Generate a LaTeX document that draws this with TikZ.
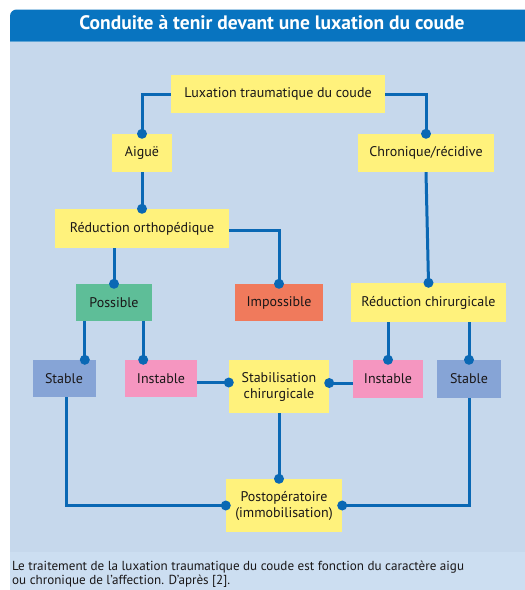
\documentclass[tikz,border=0pt]{standalone}
\usepackage{fontspec}
\setmainfont{PT Sans}
\usetikzlibrary{calc}
\definecolor{titleblue}{HTML}{0874C0}
\definecolor{panelbg}{HTML}{C6D8EC}
\definecolor{capbg}{HTML}{CCDEF1}
\definecolor{linecol}{HTML}{0A68B4}
\definecolor{yel}{HTML}{FFF27C}
\definecolor{grn}{HTML}{5EBE98}
\definecolor{org}{HTML}{F07A5C}
\definecolor{pnk}{HTML}{F596C0}
\definecolor{stb}{HTML}{86A4D6}
\definecolor{txt}{HTML}{1A1718}
\tikzset{
  box/.style={inner sep=0pt, text=txt, font=\fontsize{14}{16}\selectfont, align=center},
  conn/.style={draw=linecol, line width=3pt},
}
\newcommand{\mydot}[1]{\fill[linecol] #1 circle (5pt);}
\begin{document}
\begin{tikzpicture}[x=1pt,y=-1pt]
\useasboundingbox (0,0) rectangle (525,590);
\fill[white] (0,0) rectangle (525,590);
% panel
\fill[panelbg] (10,41.7) rectangle (525,552);
\fill[capbg] (10,552) rectangle (525,590);
\fill[titleblue] (10,41.7) [rounded corners=6.5pt] -- (10,9.5) [sharp corners] -- (525,9.5) -- (525,41.7) -- cycle;
\node[anchor=base, inner sep=0pt, font=\fontsize{19.5}{22}\selectfont\bfseries, text=white] (title) at (272,29.5) {Conduite à tenir devant une luxation du coude};
% nodes
\node[box, fill=yel, minimum width=214pt, minimum height=38pt] (lux) at (278,94) {Luxation traumatique du coude};
\node[box, fill=yel, minimum width=60pt, minimum height=38pt] (aig) at (142,153) {Aiguë};
\node[box, fill=yel, minimum width=136pt, minimum height=38pt] (chr) at (426,153) {Chronique/récidive};
\node[box, fill=yel, minimum width=174pt, minimum height=39pt] (rortho) at (142,228.5) {Réduction orthopédique};
\node[box, fill=grn, minimum width=76pt, minimum height=37pt] (poss) at (114,302.5) {Possible};
\node[box, fill=org, minimum width=88pt, minimum height=37pt] (imp) at (279,302.5) {Impossible};
\node[box, fill=yel, minimum width=155pt, minimum height=39pt] (rchir) at (428.5,302.5) {Réduction chirurgicale};
\node[box, fill=stb, minimum width=63pt, minimum height=37pt] (stl) at (64,378.5) {Stable};
\node[box, fill=pnk, minimum width=72pt, minimum height=37pt] (inl) at (161,378.5) {Instable};
\node[box, fill=yel, minimum width=100pt, minimum height=53pt] (stab) at (279,386.5) {Stabilisation\\chirurgicale};
\node[box, fill=pnk, minimum width=70pt, minimum height=38pt] (inr) at (388,379) {Instable};
\node[box, fill=stb, minimum width=64pt, minimum height=38pt] (str) at (469,379) {Stable};
\node[box, fill=yel, minimum width=116pt, minimum height=53pt] (post) at (284,505.5) {Postopératoire\\(immobilisation)};
% connectors
\draw[conn] (lux.west) -| (aig.north); \mydot{(aig.north)}
\draw[conn] (lux.east) -| (chr.north); \mydot{(chr.north)}
\draw[conn] (aig.south) -- (rortho.north); \mydot{(rortho.north)}
\draw[conn] ([yshift=-2pt]rortho.east) -| (imp.north); \mydot{(imp.north)}
\draw[conn] (poss.north |- rortho.south) -- (poss.north); \mydot{(poss.north)}
\draw[conn] (chr.south) -- (rchir.north); \mydot{(rchir.north)}
\coordinate (pl) at ([xshift=9pt]poss.south west);
\coordinate (pr) at ([xshift=-9pt]poss.south east);
\draw[conn] (pl) -- (pl |- stl.north); \mydot{(pl |- stl.north)}
\draw[conn] (pr) -- (pr |- inl.north); \mydot{(pr |- inl.north)}
\draw[conn] (inr.north |- rchir.south) -- (inr.north); \mydot{(inr.north)}
\draw[conn] (str.north |- rchir.south) -- (str.north); \mydot{(str.north)}
\coordinate (il) at ([yshift=-4pt]inl.east);
\draw[conn] (il) -- (il -| stab.west); \mydot{(il -| stab.west)}
\coordinate (ir) at ([yshift=-4pt]inr.west);
\draw[conn] (ir) -- (ir -| stab.east); \mydot{(ir -| stab.east)}
\draw[conn] (stab.south) -- (stab.south |- post.north); \mydot{(stab.south |- post.north)}
\coordinate (sl) at ([xshift=2pt]stl.south);
\draw[conn] (sl) |- (post.west); \mydot{(post.west)}
\draw[conn] (str.south) |- (post.east); \mydot{(post.east)}
% caption
\node[anchor=north west, inner sep=0pt, align=left, text=txt, font=\fontsize{13.1}{14}\selectfont] (cap) at (12,561) {Le traitement de la luxation traumatique du coude est fonction du caractère aigu\\ou chronique de l’affection. D’après [2].};
\end{tikzpicture}
\end{document}
